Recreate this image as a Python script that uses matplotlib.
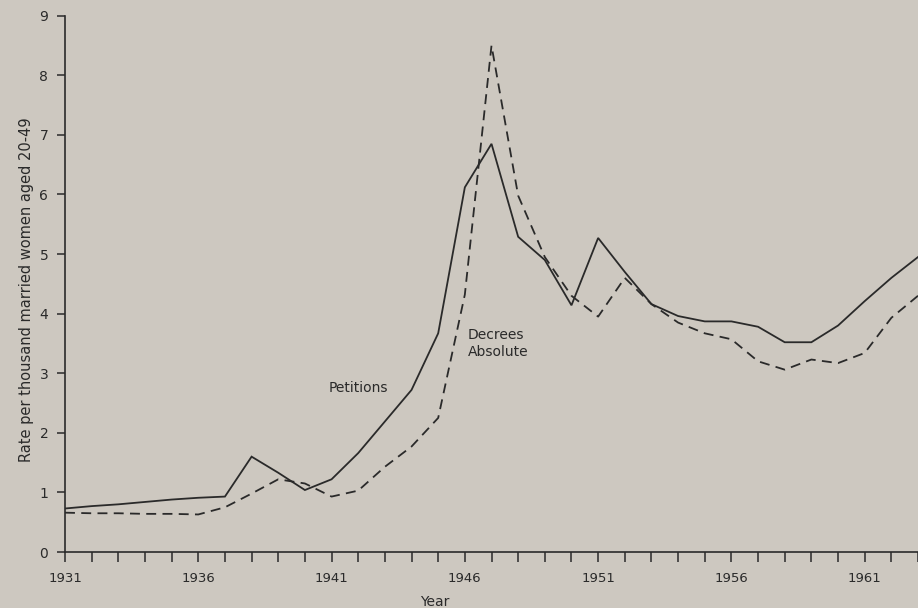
import matplotlib
matplotlib.use("Agg")
import matplotlib.pyplot as plt
import numpy as np

# Divorce rates per thousand married women aged 20-49
years = np.arange(1931, 1964)
petitions = [0.73, 0.77, 0.80, 0.84, 0.88, 0.91, 0.93, 1.60, 1.33, 1.04,
             1.22, 1.66, 2.19, 2.72, 3.67, 6.12, 6.85, 5.29, 4.90, 4.14,
             5.27, 4.70, 4.16, 3.96, 3.87, 3.87, 3.78, 3.52, 3.52, 3.80,
             4.21, 4.60, 4.95]
decrees = [0.66, 0.65, 0.65, 0.64, 0.64, 0.63, 0.75, 0.98, 1.22, 1.15,
           0.93, 1.03, 1.43, 1.77, 2.25, 4.32, 8.50, 5.98, 4.95, 4.30,
           3.95, 4.60, 4.16, 3.85, 3.67, 3.57, 3.20, 3.06, 3.23, 3.17,
           3.34, 3.93, 4.30]
label_years = [1931, 1936, 1941, 1946, 1951, 1956, 1961]
y_ticks = list(range(0, 10))

paper = "#cdc8c0"
ink = "#2a2a2a"

fig = plt.figure(figsize=(9.18, 6.08), dpi=100, facecolor=paper)
ax = fig.add_axes([65 / 918, 56 / 608, 853 / 918, (552 - 15.7) / 608])
ax.set_facecolor(paper)

ax.plot(years, petitions, color=ink, lw=1.3, solid_joinstyle="miter", clip_on=True)
ax.plot(years, decrees, color=ink, lw=1.3, linestyle=(0, (5.5, 3.5)), clip_on=True)

ax.set_xlim(1931, 1962.36)
ax.set_ylim(0, 9)

for side in ("top", "right"):
    ax.spines[side].set_visible(False)
for side in ("left", "bottom"):
    ax.spines[side].set_color(ink)
    ax.spines[side].set_linewidth(1.2)

ax.set_xticks(years)
ax.set_xticklabels([str(y) if y in label_years else "" for y in years])
ax.set_yticks(y_ticks)
ax.tick_params(axis="x", direction="out", length=7.5, width=1.1, color=ink,
               labelcolor=ink, labelsize=9.5, pad=7)
ax.tick_params(axis="y", direction="out", length=6, width=1.1, color=ink,
               labelcolor=ink, labelsize=10, pad=6)

ax.text(1940.9, 2.75, "Petitions", color=ink, fontsize=10, va="center", ha="left")
ax.text(1946.1, 3.5, "Decrees\nAbsolute", color=ink, fontsize=10, va="center",
        ha="left", linespacing=1.35)

fig.text(435 / 918, 1 - 602 / 608, "Year", color=ink, fontsize=10, ha="center", va="center")
fig.text(27 / 918, 1 - 290 / 608, "Rate per thousand married women aged 20-49",
         color=ink, fontsize=10.5, rotation=90, ha="center", va="center")

fig.savefig("out.png", dpi=100, facecolor=paper)
